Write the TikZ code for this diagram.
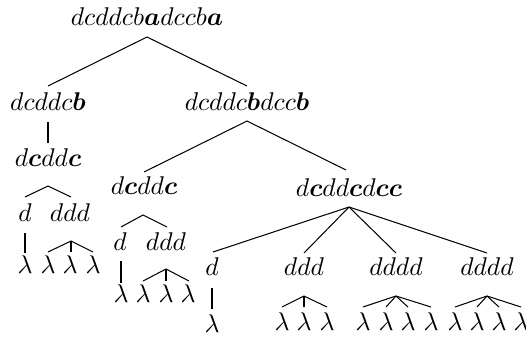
\documentclass[tikz,border=0pt]{standalone}
\usepackage{bm}
\usetikzlibrary{calc}
\begin{document}
\begin{tikzpicture}[x=0.39pt,y=-0.39pt,
  word/.style={inner sep=0pt,anchor=base},
  edge/.style={line width=0.4pt}]
\useasboundingbox (0,0) rectangle (526,337);

% words of the tree, placed on their baselines
\node[word] (R)   at (147,25)  {$dcddcb\bm{a}dccb\bm{a}$};
\node[word] (A)   at (48,110)  {$dcddc\bm{b}$};
\node[word] (B)   at (247,110) {$dcddc\bm{b}dcc\bm{b}$};
\node[word] (A1)  at (48,166)  {$d\bm{c}dd\bm{c}$};
\node[word] (A1a) at (25,221)  {$d$};
\node[word] (A1b) at (70,221)  {$ddd$};
\node[word] (A1aL)  at (25,273) {$\lambda$};
\node[word] (A1bL1) at (48,273) {$\lambda$};
\node[word] (A1bL2) at (70,273) {$\lambda$};
\node[word] (A1bL3) at (93,273) {$\lambda$};
\node[word] (B1)  at (144,194) {$d\bm{c}dd\bm{c}$};
\node[word] (B1a) at (120,250) {$d$};
\node[word] (B1b) at (166,250) {$ddd$};
\node[word] (B1aL)  at (121,302) {$\lambda$};
\node[word] (B1bL1) at (143,302) {$\lambda$};
\node[word] (B1bL2) at (166,302) {$\lambda$};
\node[word] (B1bL3) at (188,302) {$\lambda$};
\node[word] (B2)  at (349,196) {$d\bm{c}dd\bm{c}d\bm{c}\bm{c}$};
\node[word] (B2a) at (212,275) {$d$};
\node[word] (B2b) at (304,275) {$ddd$};
\node[word] (B2c) at (396,275) {$dddd$};
\node[word] (B2d) at (487,275) {$dddd$};
\node[word] (B2aL)  at (212,332) {$\lambda$};
\node[word] (B2bL1) at (282,330) {$\lambda$};
\node[word] (B2bL2) at (304,330) {$\lambda$};
\node[word] (B2bL3) at (327,330) {$\lambda$};
\node[word] (B2cL1) at (363,330) {$\lambda$};
\node[word] (B2cL2) at (386,330) {$\lambda$};
\node[word] (B2cL3) at (408,330) {$\lambda$};
\node[word] (B2cL4) at (431,330) {$\lambda$};
\node[word] (B2dL1) at (455,330) {$\lambda$};
\node[word] (B2dL2) at (477,330) {$\lambda$};
\node[word] (B2dL3) at (499,330) {$\lambda$};
\node[word] (B2dL4) at (521,330) {$\lambda$};

% branches
\draw[edge] ($(A.base)+(0,-24)$) -- ($(R.base)+(0,12)$) -- ($(B.base)+(0,-24)$);
\draw[edge] ($(A.base)+(0,12)$) -- ($(A1.base)+(0,-23)$);
\draw[edge] ($(B1.base)+(0,-22)$) -- ($(B.base)+(0,11)$) -- ($(B2.base)+(-3,-26)$);

\draw[edge] ($(A1a.base)+(0,-24)$) -- ($(A1.base)+(0,20)$) -- ($(A1b.base)+(1,-24)$);
\draw[edge] ($(A1a.base)+(0,12)$) -- ($(A1aL.base)+(0,-20)$);
\draw[edge] ($(A1bL1.base)+(0,-21)$) -- ($(A1b.base)+(1,20)$) -- ($(A1bL3.base)+(0,-21)$);
\draw[edge] ($(A1b.base)+(1,20)$) -- ($(A1bL2.base)+(1,-21)$);

\draw[edge] ($(B1a.base)+(1,-23)$) -- ($(B1.base)+(-1,21)$) -- ($(B1b.base)+(1,-23)$);
\draw[edge] ($(B1a.base)+(1,11)$) -- ($(B1aL.base)+(0,-19)$);
\draw[edge] ($(B1bL1.base)+(0,-21)$) -- ($(B1b.base)+(0,19)$) -- ($(B1bL3.base)+(1,-21)$);
\draw[edge] ($(B1b.base)+(0,19)$) -- ($(B1bL2.base)+(0,-21)$);

\draw[edge] ($(B2.base)+(0,11)$) -- ($(B2a.base)+(1,-23)$);
\draw[edge] ($(B2.base)+(0,11)$) -- ($(B2b.base)+(0,-22)$);
\draw[edge] ($(B2.base)+(0,11)$) -- ($(B2c.base)+(0,-22)$);
\draw[edge] ($(B2.base)+(0,11)$) -- ($(B2d.base)+(0,-22)$);
\draw[edge] ($(B2a.base)+(0,13)$) -- ($(B2aL.base)+(0,-23)$);

\foreach \p/\kids in {B2b/{B2bL1,B2bL2,B2bL3},
                      B2c/{B2cL1,B2cL2,B2cL3,B2cL4},
                      B2d/{B2dL1,B2dL2,B2dL3,B2dL4}}
  \foreach \k in \kids
    \draw[edge] ($(\p.base)+(0,21)$) -- ($(\k.base)+(0,-23)$);
\end{tikzpicture}
\end{document}
